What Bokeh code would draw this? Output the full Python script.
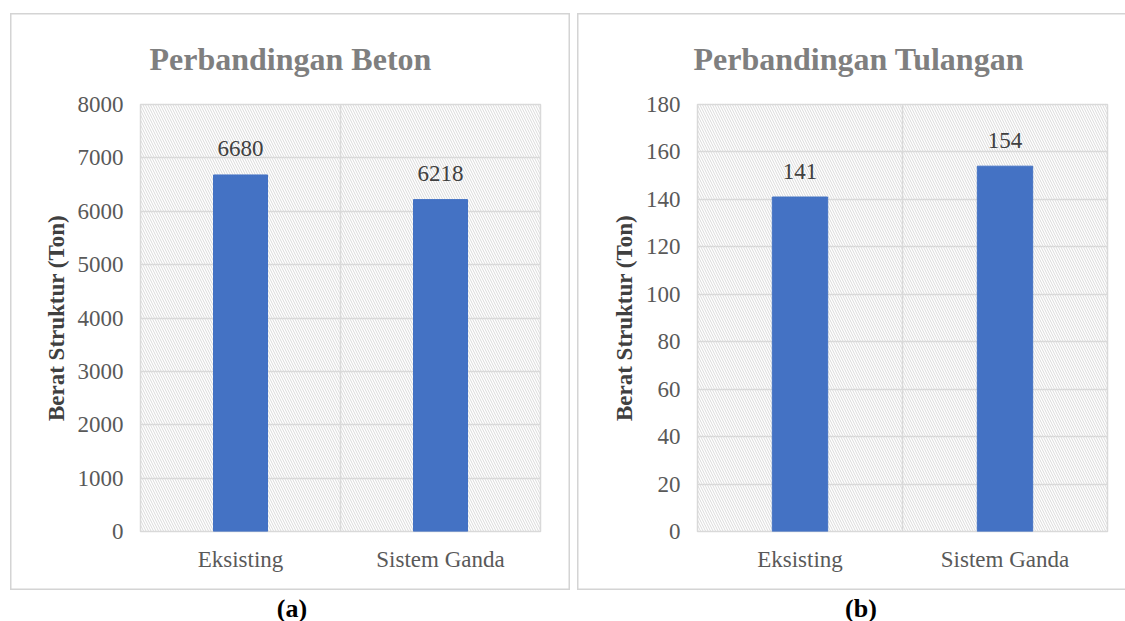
from bokeh.plotting import figure
from bokeh.models import (ColumnDataSource, Range1d, FixedTicker, BoxAnnotation, Div)
from bokeh.layouts import row, column
from bokeh.embed import file_html
from bokeh.resources import INLINE

# Data
categories = ["Eksisting", "Sistem Ganda"]
beton = [6680, 6218]
tulangan = [141, 154]
beton_ticks = [0, 1000, 2000, 3000, 4000, 5000, 6000, 7000, 8000]
tulangan_ticks = [0, 20, 40, 60, 80, 100, 120, 140, 160, 180]

FONT = "Liberation Serif"
BAR = "#4472C4"
GRID = "#d9d9d9"


def panel(title, values, ticks, width, left, right, title_offset):
    xs = [i + 0.5 for i in range(len(categories))]
    src = ColumnDataSource(dict(x=xs, top=values, cat=categories,
                                lbl=[str(v) for v in values]))
    p = figure(width=width, height=577, output_backend="svg", toolbar_location=None,
               x_range=Range1d(0, len(categories)), y_range=Range1d(ticks[0], ticks[-1]),
               min_border_left=left, min_border_right=right,
               min_border_top=91, min_border_bottom=59)
    p.border_fill_color = None
    p.background_fill_color = "white"

    # title
    p.title.text = title
    p.title.align = "left"
    p.title.offset = title_offset
    p.title.vertical_align = "top"
    p.title.text_font = FONT
    p.title.text_font_size = "32px"
    p.title.text_font_style = "bold"
    p.title.text_color = "#7f7f7f"
    p.title.standoff = 52

    # hatched plotting area
    p.add_layout(BoxAnnotation(fill_color=None, line_color=None, hatch_pattern="\\",
                               hatch_color="#dadada", hatch_scale=5, hatch_weight=1,
                               level="image"))
    p.outline_line_color = GRID
    p.outline_line_width = 1.5

    p.vbar(x="x", top="top", width=0.27, source=src, color=BAR)
    p.text(x="x", y="top", text="lbl", source=src, text_align="center",
           text_baseline="alphabetic", y_offset=-26, text_font_size="23px",
           text_color="#404040", text_font={"value": FONT})

    # axes
    p.xaxis.ticker = FixedTicker(ticks=xs)
    p.xaxis.major_label_overrides = {x: c for x, c in zip(xs, categories)}
    p.yaxis.ticker = FixedTicker(ticks=ticks)
    for ax in (p.xaxis[0], p.yaxis[0]):
        ax.axis_line_color = None
        ax.major_tick_line_color = None
        ax.minor_tick_line_color = None
        ax.major_tick_out = 0
        ax.major_tick_in = 0
        ax.major_label_text_font = FONT
        ax.major_label_text_font_size = "23px"
        ax.major_label_text_color = "#595959"
    p.xaxis.major_label_standoff = 15
    p.yaxis.major_label_standoff = 17
    p.yaxis.axis_label = "Berat Struktur (Ton)"
    p.yaxis.axis_label_text_font = FONT
    p.yaxis.axis_label_text_font_size = "23px"
    p.yaxis.axis_label_text_font_style = "bold"
    p.yaxis.axis_label_text_color = "#404040"
    p.yaxis.axis_label_standoff = 6

    # grid
    p.ygrid.ticker = FixedTicker(ticks=ticks)
    p.ygrid.grid_line_color = GRID
    p.ygrid.grid_line_width = 1.5
    p.xgrid.ticker = FixedTicker(ticks=list(range(1, len(categories))))
    p.xgrid.grid_line_color = GRID
    p.xgrid.grid_line_width = 1.5

    # chart-area border
    p.styles = {"box-shadow": "inset 0 0 0 1.5px #d4d4d4", "background-color": "white"}
    return p


p1 = panel("Perbandingan Beton", beton, beton_ticks, 560, 130, 30, 9)
p2 = panel("Perbandingan Tulangan", tulangan, tulangan_ticks, 550, 120, 20, -4)
p1.margin = (13, 0, 0, 10)
p2.margin = (13, 0, 0, 7)

cap_style = {"font-family": FONT, "font-size": "26px", "font-weight": "bold",
             "color": "#000000", "text-align": "center", "width": "100%"}
da = Div(text="(a)", width=580, height=31, styles=cap_style, margin=(0, 0, 0, 2))
db = Div(text="(b)", width=530, height=31, styles=cap_style, margin=(0, 0, 0, 14))

layout = column(row(p1, p2), row(da, db))
open("out.html", "w").write(file_html(layout, INLINE))
